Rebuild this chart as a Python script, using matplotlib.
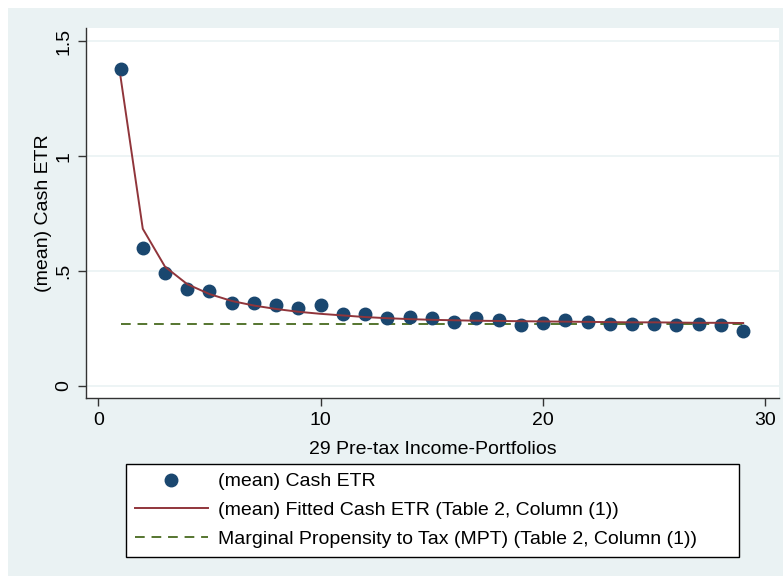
import matplotlib.pyplot as plt
from matplotlib.patches import Rectangle

# Portfolio numbers and the values
portfolios = list(range(1, 30))
cash_etr = [1.380, 0.601, 0.490, 0.423, 0.412, 0.361, 0.362, 0.354, 0.339, 0.352,
            0.314, 0.312, 0.297, 0.300, 0.296, 0.280, 0.294, 0.287, 0.267, 0.274,
            0.286, 0.280, 0.268, 0.270, 0.268, 0.265, 0.271, 0.267, 0.241]
fitted_etr = [1.345, 0.684, 0.519, 0.443, 0.400, 0.370, 0.350, 0.335, 0.323, 0.314,
              0.307, 0.300, 0.295, 0.291, 0.288, 0.286, 0.284, 0.283, 0.282, 0.281,
              0.280, 0.279, 0.278, 0.277, 0.277, 0.276, 0.275, 0.275, 0.274]
mpt = [0.268] * len(portfolios)

x_ticks = [0, 10, 20, 30]
y_ticks = [0, 0.5, 1, 1.5]
y_tick_labels = ['0', '.5', '1', '1.5']

plt.rcParams['font.family'] = ['Liberation Sans', 'DejaVu Sans']

W, H = 783, 576
fig = plt.figure(figsize=(W / 100, H / 100), dpi=100, facecolor='white')
# Stata-like light background panel, kept behind the axes
fig.patches.append(Rectangle((8 / W, 0), (W - 8) / W, (H - 8) / H,
                             transform=fig.transFigure, facecolor='#EAF2F3',
                             edgecolor='none', zorder=-10))

ax = fig.add_axes([86 / W, (H - 398) / H, (779 - 86) / W, (398 - 28) / H])
ax.set_facecolor('white')

ax.plot(portfolios, cash_etr, 'o', color='#1A476F', markersize=9,
        label='(mean) Cash ETR', zorder=3)
ax.plot(portfolios, fitted_etr, '-', color='#90353B', linewidth=1.4,
        label='(mean) Fitted Cash ETR (Table 2, Column (1))', zorder=4)
ax.plot(portfolios, mpt, '--', color='#55752F', linewidth=1.4, dashes=(5, 3.5),
        label='Marginal Propensity to Tax (MPT) (Table 2, Column (1))', zorder=2)

ax.set_xlim(-0.553, 30.61)
ax.set_ylim(-0.052, 1.557)
ax.set_xticks(x_ticks)
ax.set_yticks(y_ticks)
ax.set_yticklabels(y_tick_labels, rotation=90, va='center')
ax.grid(axis='y', color='#EAF2F3', linewidth=1.2)
ax.set_axisbelow(True)

for side in ['top', 'right']:
    ax.spines[side].set_visible(False)
for side in ['left', 'bottom']:
    ax.spines[side].set_color('#333333')
    ax.spines[side].set_linewidth(1.0)
ax.tick_params(direction='out', length=6, width=1, colors='#333333',
               labelcolor='black', labelsize=14, pad=4)

ax.set_xlabel('29 Pre-tax Income-Portfolios', fontsize=14, labelpad=9)
ax.set_ylabel('(mean) Cash ETR', fontsize=14, labelpad=2.5)

leg = ax.legend(loc='upper left',
                bbox_to_anchor=(126 / W, 1 - 556 / H, (739 - 126) / W, (556 - 464) / H),
                bbox_transform=fig.transFigure, mode='expand', fontsize=14,
                frameon=True, fancybox=False, edgecolor='black', framealpha=1,
                handlelength=3.75, handletextpad=0.55, borderpad=0.45,
                labelspacing=0.58, borderaxespad=0)
leg.get_frame().set_linewidth(1.0)

fig.savefig('out.png', dpi=100, facecolor=fig.get_facecolor())
